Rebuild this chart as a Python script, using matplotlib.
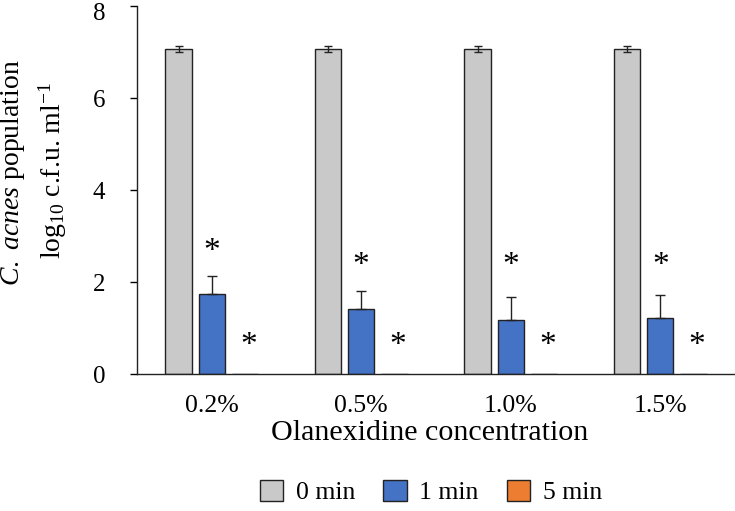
import matplotlib
matplotlib.use("Agg")
import matplotlib.pyplot as plt
import matplotlib.transforms as mtransforms
import numpy as np

plt.rcParams['font.family'] = 'Liberation Serif'
plt.rcParams['mathtext.fontset'] = 'custom'
plt.rcParams['mathtext.rm'] = 'Liberation Serif'
plt.rcParams['mathtext.it'] = 'Liberation Serif:italic'

concentrations = ["0.2%", "0.5%", "1.0%", "1.5%"]
series = ["0 min", "1 min", "5 min"]
values_0min = [7.07, 7.07, 7.07, 7.07]
err_0min = [0.07, 0.07, 0.07, 0.07]
values_1min = [1.74, 1.42, 1.18, 1.22]
err_1min = [0.40, 0.38, 0.50, 0.50]
values_5min = [0, 0, 0, 0]
# asterisk heights (significance marks)
star_1min = [2.66, 2.36, 2.36, 2.36]
star_5min = [0.62, 0.62, 0.62, 0.62]

colors = ["#C9C9C9", "#4472C4", "#ED7D31"]

fig = plt.figure(figsize=(7.35, 5.11), dpi=100)
ax = fig.add_axes([137 / 735, 137 / 511, 1 - 137 / 735, (374 - 6) / 511])

x = np.arange(len(concentrations))
w = 0.177
step = 0.221

ax.bar(x - step, values_0min, w, color=colors[0], edgecolor="#222222", linewidth=1, label=series[0],
       yerr=err_0min, error_kw=dict(ecolor="#222222", elinewidth=1, capsize=3, capthick=1))
ax.bar(x, values_1min, w, color=colors[1], edgecolor="#222222", linewidth=1, label=series[1],
       yerr=[np.zeros(4), err_1min], error_kw=dict(ecolor="#222222", elinewidth=1, capsize=3.5, capthick=1))
ax.bar(x + step, values_5min, w, color=colors[2], edgecolor="#222222", linewidth=1, label=series[2])

for i in range(len(concentrations)):
    ax.text(x[i], star_1min[i], "*", ha="center", va="center", fontsize=24)
    ax.text(x[i] + step + 0.025, star_5min[i], "*", ha="center", va="center", fontsize=24)

ax.set_xlim(-0.5, 3.5)
ax.set_ylim(0, 8)
ax.set_yticks([0, 2, 4, 6, 8])
ax.set_xticks(x)
ax.set_xticklabels(concentrations)
ax.tick_params(axis="x", length=0, pad=15, labelsize=18.5)
ax.tick_params(axis="y", length=5, width=1, direction="out", pad=18, labelsize=18)
ax.spines["top"].set_visible(False)
ax.spines["right"].set_visible(False)
for s in ["left", "bottom"]:
    ax.spines[s].set_color("#222222")
    ax.spines[s].set_linewidth(1)

# nudge the top label down so it stays inside the picture
top_lbl = ax.get_yticklabels()[-1]
top_lbl.set_transform(top_lbl.get_transform() + mtransforms.ScaledTranslation(0, -4 / 72, fig.dpi_scale_trans))

fig.text(430 / 735, 1 - 433 / 511, "Olanexidine concentration", ha="center", va="center", fontsize=21.6)
fig.text(13 / 735, 1 - 173 / 511, r"$\it{C.\ acnes}$ population", rotation=90, ha="center", va="center", fontsize=20)
fig.text(53 / 735, 1 - 170 / 511, r"log$_{10}$ c.f.u. ml$^{-1}$", rotation=90, ha="center", va="center", fontsize=20)

fig.legend(loc="center", bbox_to_anchor=(431 / 735, 1 - 492 / 511), ncol=3, frameon=False,
           fontsize=18.5, handlelength=0.9, handleheight=0.9, columnspacing=1.1, handletextpad=0.5)

fig.savefig("out.png", dpi=100)
